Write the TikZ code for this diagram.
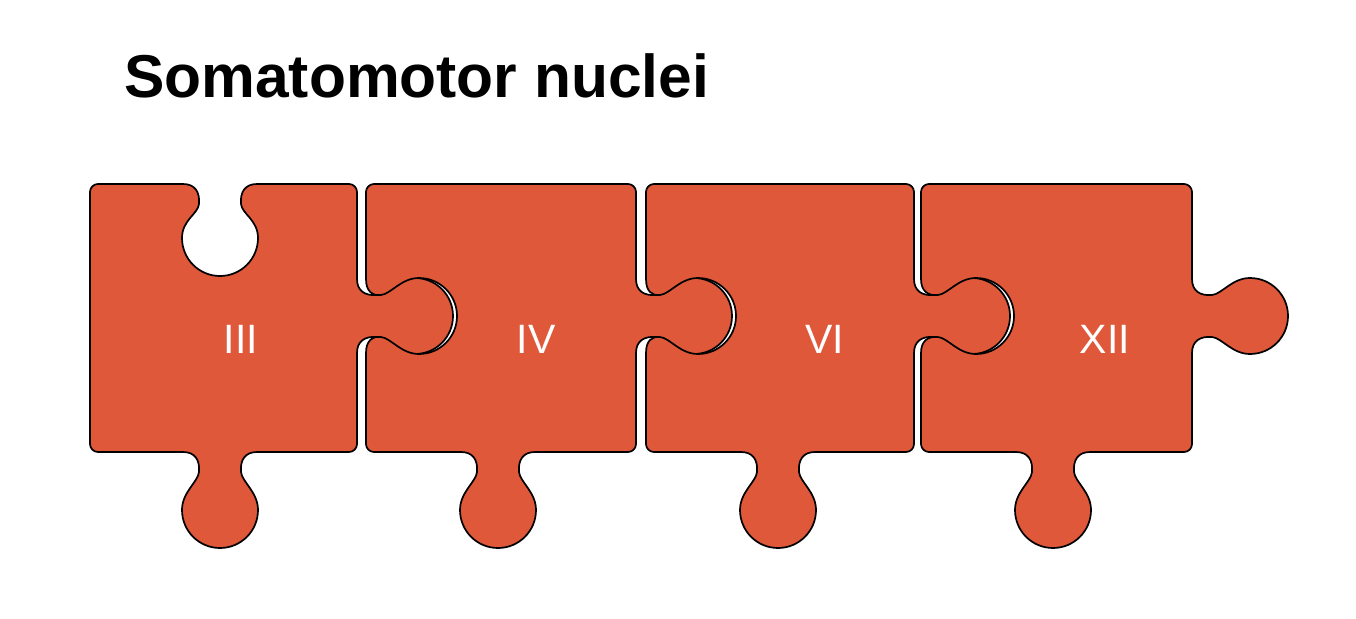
\documentclass[tikz,border=0pt]{standalone}
\usepackage{fontspec}
\setmainfont{Liberation Sans}
\definecolor{piece}{RGB}{224,88,58}
\tikzset{
  piecestyle/.style={fill=piece,draw=black,line width=1.7pt,line join=round},
  lab/.style={text=white,inner sep=0pt,font=\fontsize{41}{48}\selectfont},
}
% tab/blank: #1,#2 base point, #3 rotation, #4 mirror (1 or -1), #5 neck depth, #6 bulb centre depth
\newcommand\tb[6]{%
 -- ([shift={(#1,#2)},rotate=#3,xscale=#4]-37,0)
 .. controls ([shift={(#1,#2)},rotate=#3,xscale=#4]-25,0) and ([shift={(#1,#2)},rotate=#3,xscale=#4]-20,{0.4*#5}) .. ([shift={(#1,#2)},rotate=#3,xscale=#4]-21,#5)
 .. controls ([shift={(#1,#2)},rotate=#3,xscale=#4]-22,{#5+10}) and ([shift={(#1,#2)},rotate=#3,xscale=#4]-38,{#6-18}) .. ([shift={(#1,#2)},rotate=#3,xscale=#4]-38,#6)
 .. controls ([shift={(#1,#2)},rotate=#3,xscale=#4]-38,{#6+21}) and ([shift={(#1,#2)},rotate=#3,xscale=#4]-21,{#6+38}) .. ([shift={(#1,#2)},rotate=#3,xscale=#4]0,{#6+38})
 .. controls ([shift={(#1,#2)},rotate=#3,xscale=#4]21,{#6+38}) and ([shift={(#1,#2)},rotate=#3,xscale=#4]38,{#6+21}) .. ([shift={(#1,#2)},rotate=#3,xscale=#4]38,#6)
 .. controls ([shift={(#1,#2)},rotate=#3,xscale=#4]38,{#6-18}) and ([shift={(#1,#2)},rotate=#3,xscale=#4]22,{#5+10}) .. ([shift={(#1,#2)},rotate=#3,xscale=#4]21,#5)
 .. controls ([shift={(#1,#2)},rotate=#3,xscale=#4]20,{0.4*#5}) and ([shift={(#1,#2)},rotate=#3,xscale=#4]25,0) .. ([shift={(#1,#2)},rotate=#3,xscale=#4]37,0)
}
\begin{document}
\begin{tikzpicture}[x=1pt,y=-1pt]
\useasboundingbox (0,0) rectangle (1356,618);
% piece 1
\draw[piecestyle] (90,192) .. controls (90,187.6) and (93.6,184) .. (98,184)
  \tb{220}{184}{0}{1}{20}{54}
  -- (349,184) .. controls (353.4,184) and (357,187.6) .. (357,192)
  \tb{357}{316}{90}{-1}{20}{58}
  -- (357,444) .. controls (357,448.4) and (353.4,452) .. (349,452)
  \tb{220}{452}{0}{-1}{20}{58}
  -- (98,452) .. controls (93.6,452) and (90,448.4) .. (90,444) -- cycle;
% piece 2
\draw[piecestyle] (366,192) .. controls (366,187.6) and (369.6,184) .. (374,184)
  -- (628,184) .. controls (632.4,184) and (636,187.6) .. (636,192)
  \tb{636}{316}{90}{-1}{20}{58}
  -- (636,444) .. controls (636,448.4) and (632.4,452) .. (628,452)
  \tb{498}{452}{0}{-1}{20}{58}
  -- (374,452) .. controls (369.6,452) and (366,448.4) .. (366,444)
  \tb{366}{316}{90}{1}{15}{53} -- cycle;
% piece 3
\draw[piecestyle] (646,192) .. controls (646,187.6) and (649.6,184) .. (654,184)
  -- (906,184) .. controls (910.4,184) and (914,187.6) .. (914,192)
  \tb{914}{316}{90}{-1}{20}{58}
  -- (914,444) .. controls (914,448.4) and (910.4,452) .. (906,452)
  \tb{778}{452}{0}{-1}{20}{58}
  -- (654,452) .. controls (649.6,452) and (646,448.4) .. (646,444)
  \tb{646}{316}{90}{1}{14}{52} -- cycle;
% piece 4
\draw[piecestyle] (921,192) .. controls (921,187.6) and (924.6,184) .. (929,184)
  -- (1184,184) .. controls (1188.4,184) and (1192,187.6) .. (1192,192)
  \tb{1192}{316}{90}{-1}{20}{58}
  -- (1192,444) .. controls (1192,448.4) and (1188.4,452) .. (1184,452)
  \tb{1053}{452}{0}{-1}{20}{58}
  -- (929,452) .. controls (924.6,452) and (921,448.4) .. (921,444)
  \tb{921}{316}{90}{1}{17}{55} -- cycle;
% labels
\node[lab] (l3) at (241,339) {III};
\node[lab] (l4) at (536,339) {IV};
\node[lab] (l6) at (825,339) {VI};
\node[lab] (l12) at (1105,339) {XII};
\node[anchor=base west,inner sep=0pt,font=\bfseries\fontsize{60.5}{72}\selectfont] (title) at (124,97) {Somatomotor nuclei};
\end{tikzpicture}
\end{document}
